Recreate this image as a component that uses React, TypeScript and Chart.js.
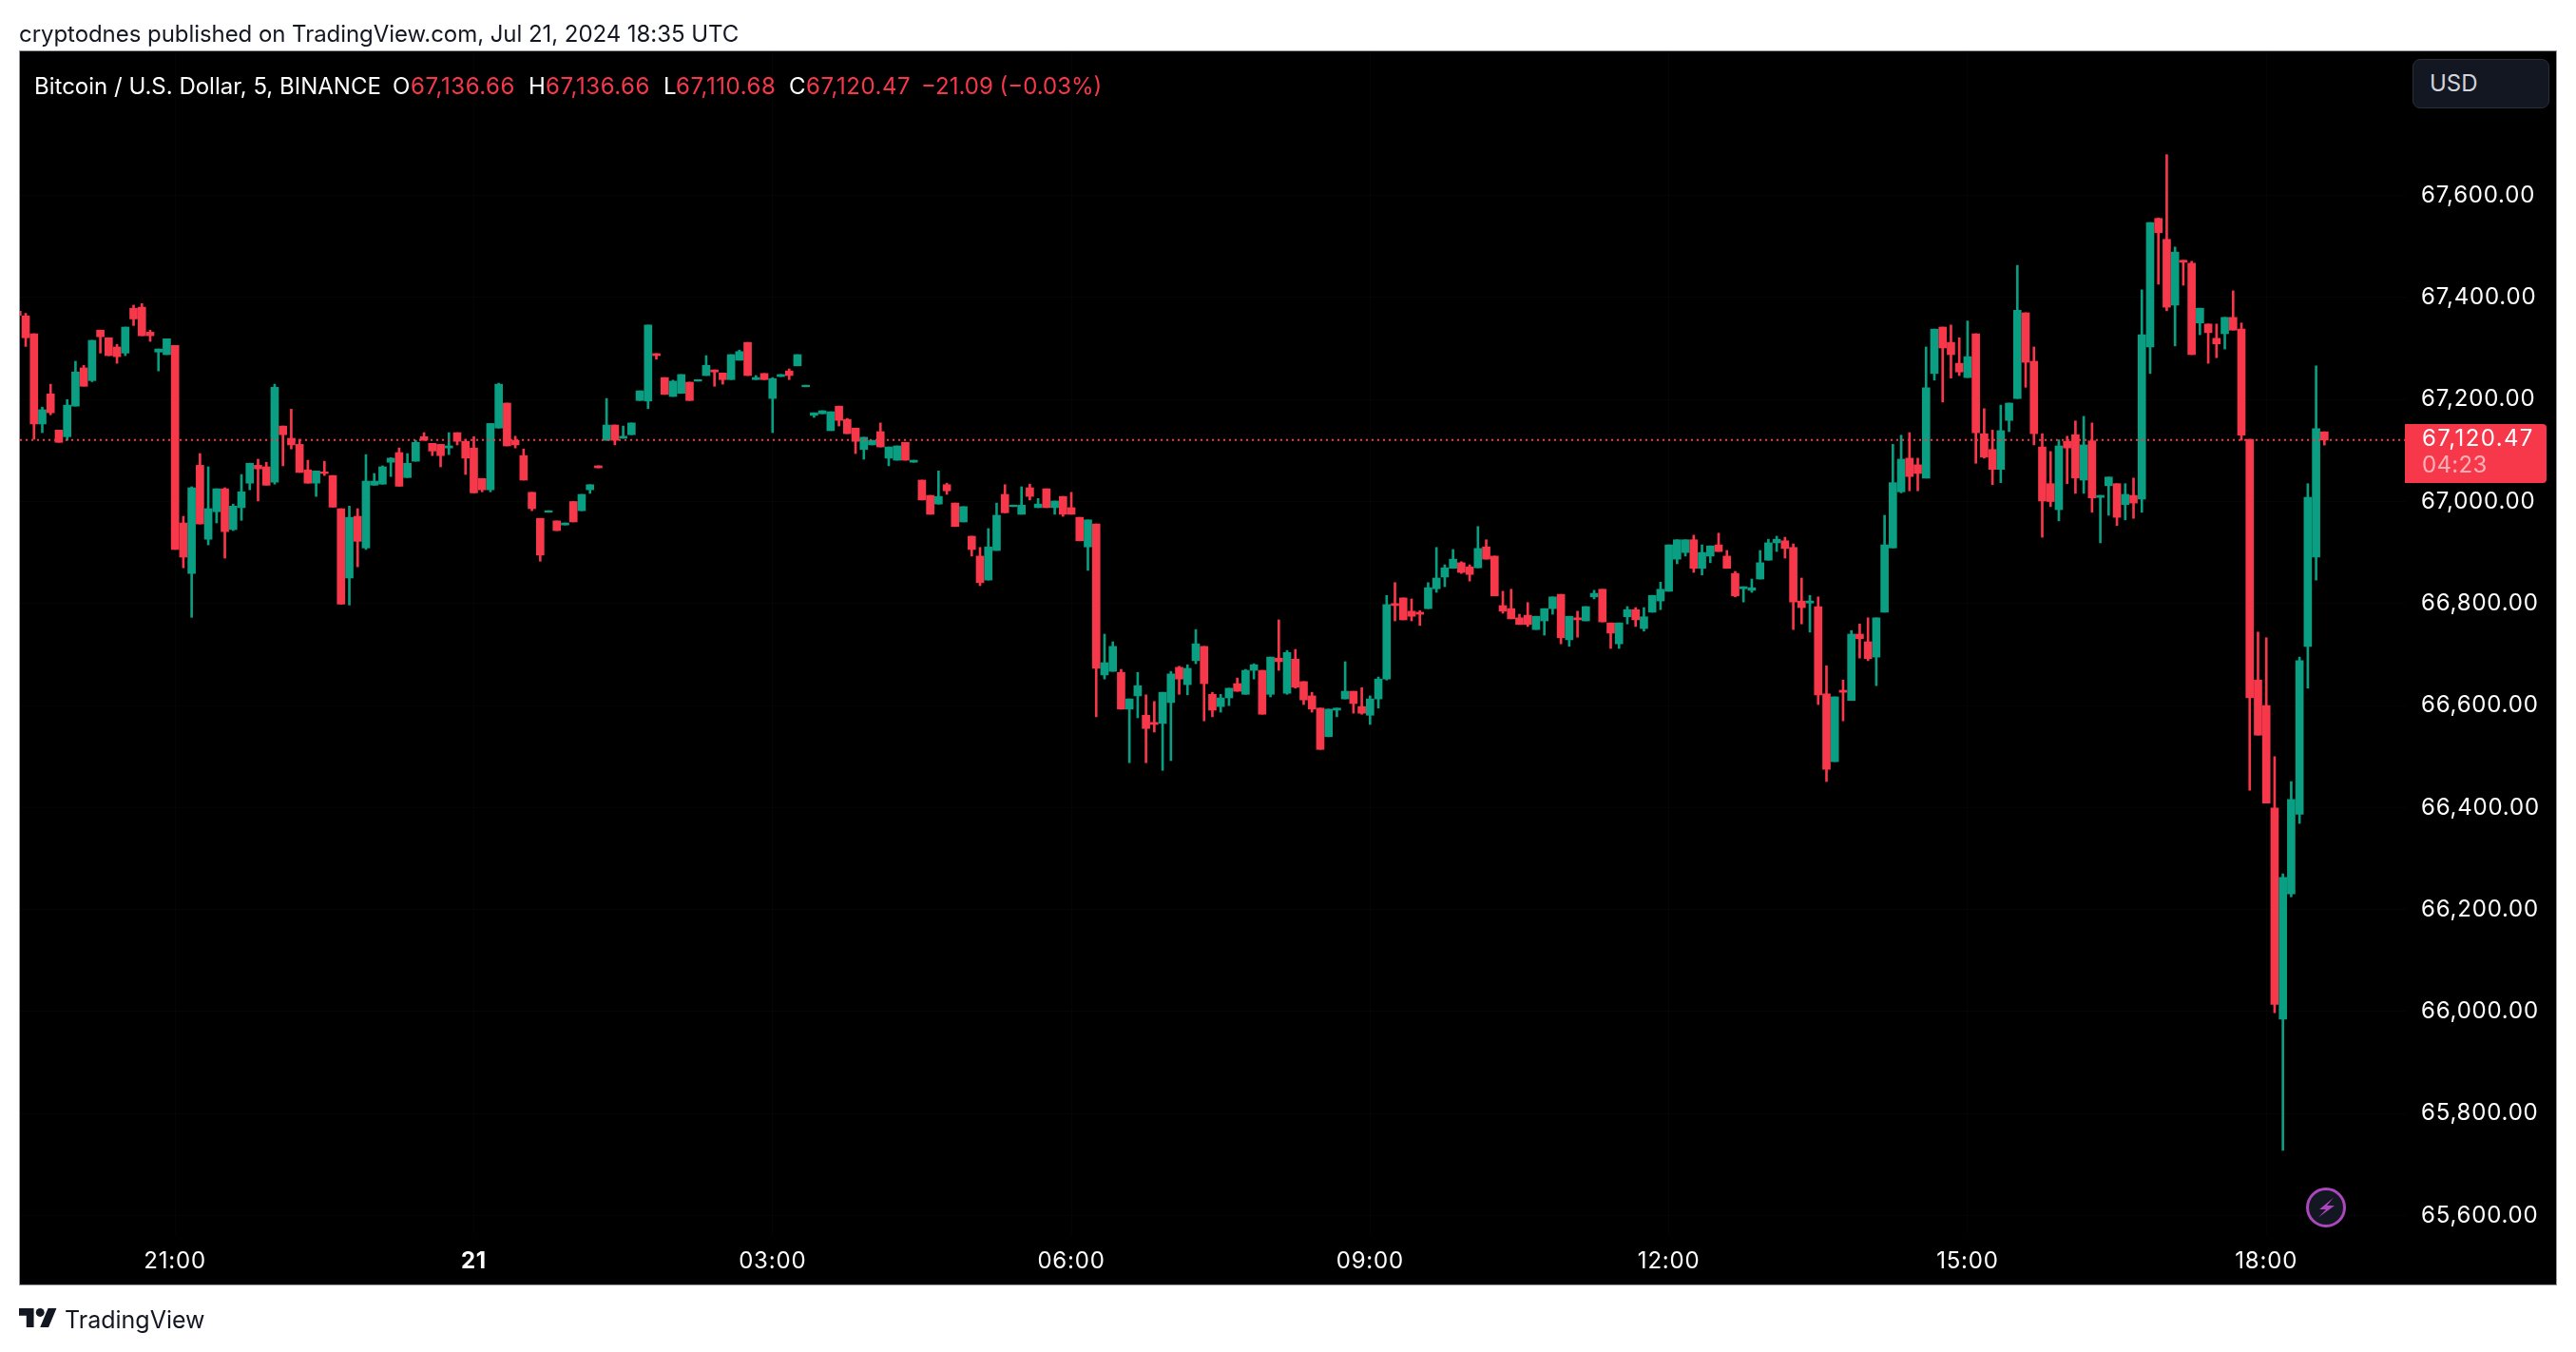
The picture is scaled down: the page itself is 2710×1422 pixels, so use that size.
import React, { useEffect, useRef } from "react";
import { Chart, registerables } from "chart.js";

Chart.register(...registerables);

const opens = [
  67373,67364,67329,67152,67211,67140,67127,67187,67262,67237,
  67336,67321,67303,67291,67379,67381,67332,67293,67288,67306,
  66958,66859,67071,66926,66980,67025,66945,66988,67036,67071,
  67068,67038,67148,67124,67112,67062,67036,67058,67051,66986,
  66850,66971,66909,67032,67034,67077,67096,67047,67079,67127,
  67114,67112,67105,67135,67118,67105,67045,67023,67144,67193,
  67120,67090,67018,66967,66979,66962,66954,67000,66982,67023,
  67070,67120,67150,67124,67131,67198,67197,67290,67243,67206,
  67212,67234,67236,67247,67258,67252,67239,67277,67312,67239,
  67251,67202,67245,67256,67266,67225,67169,67172,67139,67187,
  67161,67144,67102,67111,67137,67085,67081,67116,67077,67042,
  67012,66995,67033,66997,66960,66932,66893,66846,66904,67014,
  66990,66975,67027,66988,67025,66988,67010,66988,66969,66911,
  66956,66660,66667,66665,66593,66619,66581,66567,66565,66606,
  66675,66641,66688,66716,66622,66598,66615,66643,66622,66669,
  66669,66622,66693,66624,66691,66647,66619,66595,66539,66591,
  66613,66628,66598,66581,66613,66652,66800,66811,66785,66783,
  66790,66829,66852,66869,66880,66872,66870,66911,66893,66796,
  66790,66772,66777,66749,66766,66790,66818,66729,66772,66766,
  66813,66828,66762,66721,66774,66788,66751,66783,66805,66824,
  66887,66900,66925,66869,66893,66915,66893,66859,66829,66826,
  66848,66885,66919,66923,66910,66805,66801,66794,66623,66490,
  66630,66610,66740,66725,66695,66783,66909,67019,67085,67072,
  67046,67251,67342,67312,67271,67243,67329,67133,67102,67063,
  67159,67202,67370,67275,67107,67035,66984,67118,67131,67042,
  67119,67008,67031,67035,66994,67012,67005,67303,67555,67514,
  67385,67473,67467,67350,67348,67320,67329,67361,67338,67122,
  66650,66600,66399,65985,66231,66387,66716,66891,67136.66,
];

const highs = [
  67373,67369,67329,67185,67230,67140,67200,67275,67267,67316,
  67336,67321,67308,67342,67385,67388,67336,67299,67319,67306,
  66971,67029,67094,67068,67025,67027,66995,67053,67075,67083,
  67077,67230,67148,67181,67122,67081,67060,67079,67051,66986,
  66991,66986,67092,67055,67070,67086,67105,67094,67120,67135,
  67114,67112,67135,67135,67122,67127,67045,67153,67232,67193,
  67128,67103,67018,66967,66982,66962,66958,67000,67014,67033,
  67070,67202,67150,67148,67154,67217,67346,67290,67243,67238,
  67249,67234,67239,67286,67258,67252,67288,67297,67312,67247,
  67251,67243,67249,67260,67288,67228,67174,67178,67176,67187,
  67163,67144,67126,67120,67154,67107,67109,67116,67081,67042,
  67012,67060,67036,66997,66990,66932,66910,66947,66997,67033,
  66993,67029,67034,67006,67025,67001,67010,67018,66969,66964,
  66956,66740,66725,66671,66613,66665,66621,66608,66626,66667,
  66677,66680,66749,66716,66626,66622,66634,66654,66671,66682,
  66669,66695,66768,66708,66710,66647,66626,66595,66593,66595,
  66686,66628,66635,66619,66656,66816,66841,66811,66809,66786,
  66841,66910,66876,66906,66882,66876,66951,66925,66893,66824,
  66828,66779,66802,66775,66790,66813,66818,66775,66785,66794,
  66826,66828,66762,66762,66794,66792,66792,66816,66842,66915,
  66925,66925,66934,66915,66913,66938,66904,66863,66833,66848,
  66904,66926,66932,66930,66917,66850,66816,66813,66678,66617,
  66650,66747,66760,66772,66772,66973,67112,67130,67135,67085,
  67303,67338,67342,67346,67321,67354,67329,67182,67140,67189,
  67193,67463,67370,67303,67133,67098,67121,67128,67158,67167,
  67154,67012,67048,67035,67035,67046,67415,67547,67556,67680,
  67499,67473,67471,67379,67348,67348,67361,67413,67350,67122,
  66744,66733,66500,66270,66451,66695,67035,67266,67136.66,
];

const lows = [
  67362,67304,67122,67135,67170,67116,67120,67187,67226,67235,
  67291,67286,67271,67286,67345,67325,67314,67256,67288,66906,
  66870,66773,66956,66915,66958,66889,66943,66963,67023,67001,
  67032,67034,67070,67103,67057,67036,67010,67051,66989,66799,
  66797,66872,66906,67032,67034,67049,67030,67047,67079,67120,
  67090,67068,67092,67111,67053,67017,67019,67019,67144,67109,
  67105,67042,66982,66883,66979,66943,66954,66960,66982,67016,
  67066,67120,67111,67124,67131,67198,67182,67279,67210,67206,
  67212,67198,67236,67247,67226,67230,67239,67277,67247,67239,
  67239,67135,67245,67239,67266,67225,67165,67172,67139,67148,
  67133,67094,67083,67111,67107,67070,67081,67081,67077,67003,
  66975,66995,67014,66951,66960,66893,66835,66846,66904,66978,
  66990,66975,67003,66988,66988,66975,66971,66975,66923,66865,
  66578,66652,66667,66593,66488,66576,66488,66548,66473,66492,
  66622,66621,66682,66570,66578,66587,66600,66628,66622,66652,
  66583,66617,66669,66622,66634,66602,66587,66514,66539,66578,
  66613,66585,66583,66563,66595,66650,66766,66768,66766,66757,
  66790,66822,66833,66869,66859,66844,66870,66887,66815,66781,
  66770,66759,66755,66749,66738,66779,66721,66716,66734,66766,
  66809,66764,66712,66712,66760,66755,66746,66783,66788,66824,
  66878,66893,66861,66856,66880,66902,66869,66813,66803,66822,
  66848,66885,66902,66889,66749,66760,66744,66602,66451,66490,
  66570,66610,66693,66688,66639,66783,66909,67017,67021,67021,
  67046,67238,67195,67242,67247,67243,67075,67085,67033,67037,
  67137,67202,67224,67111,66930,66990,66962,67035,67016,67016,
  66979,66919,66973,66953,66964,66967,66979,67251,67426,67374,
  67305,67424,67288,67327,67271,67282,67299,67336,67120,66434,
  66542,66409,65998,65728,66225,66369,66634,66846,67110.68,
];

const closes = [
  67365,67321,67152,67180,67174,67116,67189,67254,67226,67316,
  67323,67286,67284,67342,67358,67325,67325,67299,67319,66906,
  66891,67027,66956,66986,67025,66941,66991,67019,67075,67064,
  67032,67224,67131,67111,67057,67036,67060,67055,66989,66799,
  66969,66922,67040,67040,67068,67085,67030,67075,67116,67120,
  67099,67090,67109,67118,67085,67017,67023,67153,67230,67109,
  67111,67042,66986,66895,66982,66943,66958,66960,67014,67033,
  67066,67150,67120,67128,67154,67217,67346,67286,67210,67236,
  67249,67198,67239,67267,67254,67239,67288,67294,67247,67243,
  67239,67241,67249,67247,67288,67228,67174,67178,67176,67159,
  67133,67118,67126,67120,67107,67107,67109,67081,67081,67003,
  66975,67010,67021,66951,66990,66906,66841,66911,66973,66978,
  66993,66993,67010,66995,66988,67001,66975,66975,66923,66964,
  66673,66684,66716,66593,66613,66639,66555,66563,66626,66662,
  66652,66673,66721,66643,66591,66615,66634,66628,66669,66680,
  66583,66695,66686,66704,66636,66611,66593,66514,66593,66595,
  66628,66604,66585,66613,66652,66798,66796,66768,66775,66779,
  66831,66850,66870,66887,66861,66857,66908,66887,66815,66785,
  66770,66759,66759,66775,66790,66813,66733,66775,66768,66794,
  66820,66764,66742,66762,66788,66768,66774,66816,66828,66915,
  66925,66925,66869,66900,66913,66902,66869,66815,66833,66831,
  66880,66919,66926,66908,66803,66792,66805,66621,66475,66617,
  66626,66740,66731,66692,66772,66915,67037,67083,67049,67055,
  67223,67338,67301,67288,67254,67284,67135,67087,67063,67139,
  67193,67375,67273,67133,67001,67000,67109,67105,67046,67111,
  67007,67012,67048,66969,67014,66997,67327,67547,67527,67381,
  67489,67469,67288,67379,67331,67309,67361,67336,67130,66615,
  66542,66409,66014,66263,66416,66688,67008,67143,67120.47,
];

const priceTicks = [65600, 65800, 66000, 66200, 66400, 66600, 66800, 67000, 67200, 67400, 67600];
const timeTickBars = [19, 55, 91, 127, 163, 199, 235, 271];
const timeTickLabels = ["21:00", "21", "03:00", "06:00", "09:00", "12:00", "15:00", "18:00"];
const lastPrice = 67120.47;
const FONT = "Inter, 'Noto Sans', sans-serif";
const UP = "#0A9E82";
const DOWN = "#F7384B";
const xMin = 0.31;
const xMax = 287.7;

const abs = (left: number, top: number, extra: React.CSSProperties = {}): React.CSSProperties => ({
  position: "absolute",
  left,
  top,
  fontFamily: FONT,
  whiteSpace: "nowrap",
  lineHeight: "30px",
  ...extra,
});

const legendValue: React.CSSProperties = { fontSize: 24, color: DOWN, letterSpacing: "0.55px" };

const axisLetterSpacing = {
  id: "axisLetterSpacing",
  beforeDraw(chart: any) {
    chart.ctx.letterSpacing = "0.8px";
  },
};

export default function App() {
  const ref = useRef<HTMLCanvasElement | null>(null);
  useEffect(() => {
    if (!ref.current) return;
    const colors = closes.map((c, i) => (c >= opens[i] ? UP : DOWN));
    const chart = new Chart(ref.current, {
      type: "bar",
      plugins: [axisLetterSpacing],
      data: {
        datasets: [
          {
            type: "line",
            order: 0,
            data: [
              { x: xMin, y: lastPrice },
              { x: xMax, y: lastPrice },
            ],
            borderColor: DOWN,
            borderWidth: 2,
            borderDash: [2, 4],
            pointRadius: 0,
          },
          {
            order: 1,
            grouped: false,
            barThickness: 8,
            borderWidth: 0,
            backgroundColor: colors,
            data: opens.map((o, i) => ({ x: i, y: [o, closes[i]] })),
          },
          {
            order: 2,
            grouped: false,
            barThickness: 2,
            borderWidth: 0,
            backgroundColor: colors,
            data: highs.map((h, i) => ({ x: i, y: [lows[i], h] })),
          },
        ] as any,
      },
      options: {
        animation: false,
        responsive: false,
        devicePixelRatio: 1,
        layout: { padding: { left: 21, top: 55, right: 20, bottom: 70 } },
        plugins: { legend: { display: false }, tooltip: { enabled: false } },
        scales: {
          x: {
            type: "linear",
            min: xMin,
            max: xMax,
            offset: false,
            grid: { offset: false, color: "rgba(255,255,255,0.02)", drawTicks: false },
            border: { display: false },
            afterBuildTicks: (s: any) => {
              s.ticks = timeTickBars.map((value) => ({ value }));
            },
            afterFit: (s: any) => {
              s.height = 54;
            },
            ticks: {
              autoSkip: false,
              maxRotation: 0,
              padding: 14,
              color: "#ffffff",
              font: (ctx: any) => ({
                family: FONT,
                size: 24,
                weight: ctx.tick && ctx.tick.value === 55 ? "bold" : "normal",
              }),
              callback: (v: any) => {
                const k = timeTickBars.indexOf(Number(v));
                return k >= 0 ? timeTickLabels[k] : "";
              },
            },
          },
          y: {
            position: "right",
            min: 65563.8,
            max: 67880.7,
            grid: { color: "rgba(255,255,255,0.02)", drawTicks: false },
            border: { display: false },
            afterBuildTicks: (s: any) => {
              s.ticks = priceTicks.map((value) => ({ value }));
            },
            afterFit: (s: any) => {
              s.width = 160;
            },
            ticks: {
              padding: 17,
              color: "#ffffff",
              crossAlign: "near",
              font: { family: FONT, size: 24 },
              callback: (v: any) =>
                Number(v).toLocaleString("en-US", { minimumFractionDigits: 2, maximumFractionDigits: 2 }),
            },
          },
        },
      } as any,
    });
    return () => chart.destroy();
  }, []);

  return (
    <div style={{ position: "absolute", left: 0, top: 0, width: 2710, height: 1422, background: "#fff", overflow: "hidden" }}>
      <div style={{ position: "absolute", left: 20, top: 53, width: 2670, height: 1299, boxSizing: "border-box", background: "#000", border: "1px solid #9598a1" }} />
      <canvas ref={ref} width={2710} height={1422} style={{ position: "absolute", left: 0, top: 0, display: "block" }} />

      <span style={abs(20, 21, { fontSize: 24, color: "#131722", letterSpacing: "-0.055px" })}>cryptodnes published on TradingView.com, Jul 21, 2024 18:35 UTC</span>

      <span style={abs(36, 76, { fontSize: 24, color: "#fff" })}>Bitcoin / U.S. Dollar, 5, BINANCE</span>
      <span style={abs(413, 76, { fontSize: 24, color: "#fff" })}>O</span>
      <span style={abs(432, 76, legendValue)}>67,136.66</span>
      <span style={abs(556, 76, { fontSize: 24, color: "#fff" })}>H</span>
      <span style={abs(574, 76, legendValue)}>67,136.66</span>
      <span style={abs(698, 76, { fontSize: 24, color: "#fff" })}>L</span>
      <span style={abs(711, 76, legendValue)}>67,110.68</span>
      <span style={abs(830, 76, { fontSize: 24, color: "#fff" })}>C</span>
      <span style={abs(848, 76, legendValue)}>67,120.47</span>
      <span style={abs(969, 76, { fontSize: 24, color: DOWN })}>−21.09 (−0.03%)</span>

      <div style={{ position: "absolute", left: 2538, top: 62, width: 144, height: 52, boxSizing: "border-box", background: "#131722", border: "1px solid #2a2e39", borderRadius: 8 }} />
      <span style={abs(2556, 73, { fontSize: 24, color: "#d1d4dc" })}>USD</span>

      <div style={{ position: "absolute", left: 2530, top: 446, width: 149, height: 62, background: DOWN, borderRadius: "0 4px 4px 0" }} />
      <span style={abs(2548, 446, { fontSize: 24, color: "#fff", letterSpacing: "1.4px" })}>67,120.47</span>
      <span style={abs(2548, 474, { fontSize: 24, color: "rgba(255,255,255,0.6)", letterSpacing: "0.3px" })}>04:23</span>

      <svg style={{ position: "absolute", left: 2425, top: 1248 }} width={44} height={44} viewBox="0 0 44 44">
        <circle cx={22} cy={22} r={19.5} fill="#131722" stroke="#ab47bc" strokeWidth={3} />
        <path d="M30 11.5 L15 24 H22 L14 32.5 L31 20 H23 Z" fill="#ab47bc" />
      </svg>

      <svg style={{ position: "absolute", left: 20, top: 1376 }} width={40} height={20} viewBox="0 4 36 18">
        <path d="M14 22H7V11H0V4h14v18zM28 22h-8l7.5-18h8L28 22z" fill="#131722" />
        <circle cx={20} cy={8} r={4} fill="#131722" />
      </svg>
      <span style={abs(68, 1373, { fontSize: 25, color: "#131722" })}>TradingView</span>
    </div>
  );
}
